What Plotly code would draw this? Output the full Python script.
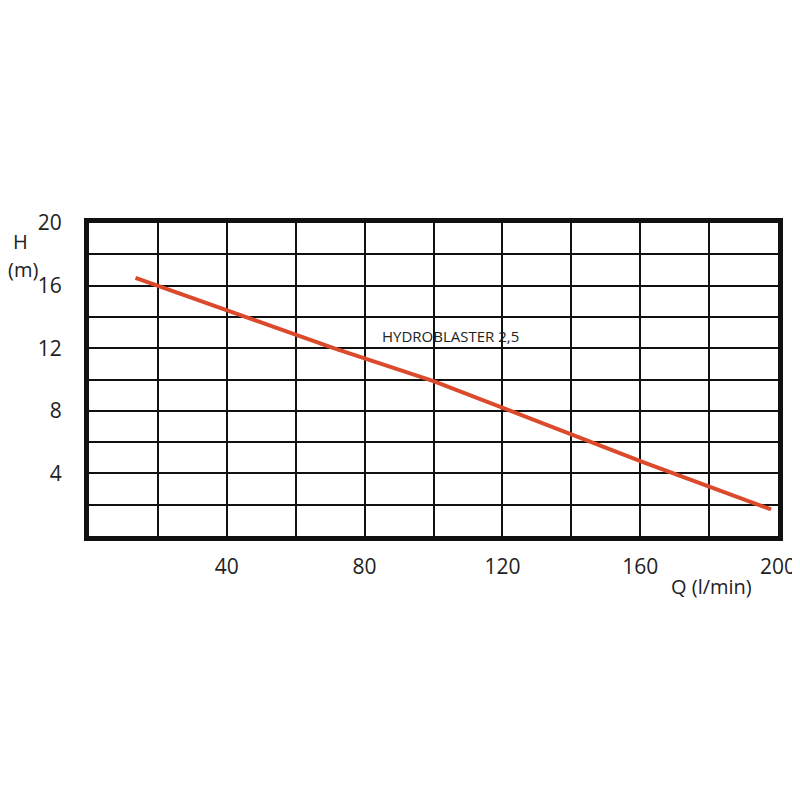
import plotly.graph_objects as go

# Data
flow_q = [13.5, 71, 100, 120, 161, 198]      # l/min
head_h = [16.5, 12.0, 9.9, 8.2, 4.7, 1.7]    # m
series_name = "HYDROBLASTER 2,5"

x_tickvals = [0, 20, 40, 60, 80, 100, 120, 140, 160, 180, 200]
x_ticktext = ["", "", "40", "", "80", "", "120", "", "160", "", "200"]
y_tickvals = [0, 2, 4, 6, 8, 10, 12, 14, 16, 18, 20]
y_ticktext = ["", "", "4", "", "8", "", "12", "", "16", "", "20"]

FONT = "Open Sans, Liberation Sans, sans-serif"

ML, MR, MT, MB = 81, 27, 215, 272
PW, PH = 800 - ML - MR, 800 - MT - MB
OFF = 5


def px(x):
    return (x - OFF - ML) / PW


def py(y):
    return (800 - MB - (y - OFF)) / PH


fig = go.Figure()
fig.add_trace(go.Scatter(x=flow_q, y=head_h, mode="lines",
                         line=dict(color="#dc4a2c", width=4), showlegend=False))

fig.add_annotation(x=105, y=12.8, xref="x", yref="y", text=series_name, showarrow=False,
                   xanchor="center", yanchor="middle",
                   font=dict(family=FONT, size=15, color="#222"))
fig.add_annotation(x=px(17), y=py(238), xref="paper", yref="paper", text="H", showarrow=False,
                   xanchor="center", yanchor="middle",
                   font=dict(family=FONT, size=20, color="#222"))
fig.add_annotation(x=px(20), y=py(266), xref="paper", yref="paper", text="(m)", showarrow=False,
                   xanchor="center", yanchor="middle",
                   font=dict(family=FONT, size=20, color="#222"))
fig.add_annotation(x=px(711), y=py(583), xref="paper", yref="paper", text="Q (l/min)", showarrow=False,
                   xanchor="center", yanchor="middle",
                   font=dict(family=FONT, size=20, color="#222"))

fig.update_xaxes(range=[0, 200], tickmode="array", tickvals=x_tickvals, ticktext=x_ticktext,
                 showgrid=True, gridcolor="#111", gridwidth=2, zeroline=False,
                 showline=True, linecolor="#111", linewidth=5, mirror=True,
                 ticks="", ticklabelstandoff=8,
                 tickfont=dict(family=FONT, size=21, color="#222"))
fig.update_yaxes(range=[0, 20], tickmode="array", tickvals=y_tickvals, ticktext=y_ticktext,
                 showgrid=True, gridcolor="#111", gridwidth=2, zeroline=False,
                 showline=True, linecolor="#111", linewidth=5, mirror=True,
                 ticks="", ticklabelstandoff=18,
                 tickfont=dict(family=FONT, size=21, color="#222"))

fig.update_layout(width=800, height=800, paper_bgcolor="white", plot_bgcolor="white",
                  margin=dict(l=ML, r=MR, t=MT, b=MB), showlegend=False)

fig.write_html("out.html")
